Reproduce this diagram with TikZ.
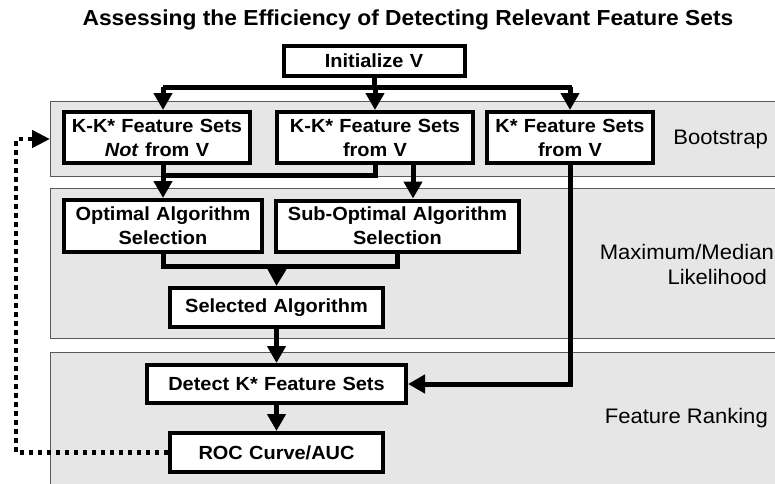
\documentclass[tikz,border=0pt]{standalone}
\usepackage{fontspec}
\setmainfont[FakeStretch=1.05]{Liberation Sans}
\usepackage{tikz}
\usetikzlibrary{arrows.meta}
\usetikzlibrary{positioning}
\definecolor{bandgray}{RGB}{230,230,230}
\tikzstyle{band} = [fill=bandgray, draw=black!65, line width=1pt]
\tikzstyle{stepbox} = [draw, fill=white, line width=4pt, inner sep=0pt, align=center, font=\fontsize{19}{24}\selectfont\bfseries]
\tikzstyle{bandlabel} = [anchor=east, align=right, inner sep=0pt, font=\fontsize{21}{25}\selectfont]
\tikzstyle{link} = [line width=5pt, miter limit=10]
\tikzstyle{arrow} = [link, -{Triangle[length=17pt,width=18pt]}]
\tikzstyle{loopback} = [line width=4.5pt, dash pattern=on 4.5pt off 4.5pt, -{Triangle[length=18pt,width=17pt]}]

\begin{document}
\begin{tikzpicture}[x=1pt,y=-1pt]
\clip (0,0) rectangle (775,483);
\fill[white] (0,0) rectangle (775,483);

% bands
\draw[band] (50,101) rectangle (780,176);
\draw[band] (50,188) rectangle (780,338);
\draw[band] (50,352) rectangle (780,495);
\coordinate (bootin) at (50,139);

\node[font=\fontsize{21.7}{26}\selectfont\bfseries] (title) at (408,20) {Assessing the Efficiency of Detecting Relevant Feature Sets};

\node[stepbox, text width=181pt, minimum height=30pt] (init) at (374,61) {Initialize V};
\node[stepbox, text width=186pt, minimum height=51pt] (notV) at (157,137.5) {K-K* Feature Sets\\\textit{Not} from V};
\node[stepbox, text width=196pt, minimum height=51pt] (fromV) at (375,137.5) {K-K* Feature Sets\\from V};
\node[stepbox, text width=166pt, minimum height=51pt] (kstar) at (570,137.5) {K* Feature Sets\\from V};
\node[stepbox, text width=198pt, minimum height=52pt] (optsel) at (163,226) {Optimal Algorithm\\Selection};
\node[stepbox, text width=243pt, minimum height=51pt] (subsel) at (397.5,226) {Sub-Optimal Algorithm\\Selection};
\node[stepbox, text width=213pt, minimum height=39pt] (selalg) at (276.5,307.5) {Selected Algorithm};
\node[stepbox, text width=259pt, minimum height=38pt] (detect) at (276.5,384) {Detect K* Feature Sets};
\node[stepbox, text width=213pt, minimum height=39pt] (roc) at (276.5,452.5) {ROC Curve/AUC};

\node[bandlabel] (bootlbl) at (768,139) {Bootstrap};
\node[bandlabel] (mlelbl) at (774,264.5) {Maximum/Median\\Likelihood\hspace*{7pt}};
\node[bandlabel] (ranklbl) at (768,418) {Feature Ranking};

% junctions
\coordinate (j0) at (374,87);
\coordinate (b1) at (163,175);
\coordinate (b2) at (413,175);
\coordinate (b3) at (277,266);
\coordinate (lp) at (16,139);

\draw[link] (init.south) -- (j0);
\draw[link] (163,87) -- (572,87);
\draw[arrow] (j0 -| b1) -- (b1 |- notV.north);
\draw[arrow] (j0 -| fromV.north) -- (fromV.north);
\draw[arrow] (j0 -| kstar.north) -- (kstar.north);

\draw[link] (b1 |- notV.south) -- (b1) -- (b1 -| fromV.south) -- (fromV.south);
\draw[arrow] (b1) -- (optsel.north);
\draw[arrow] (b2 |- fromV.south) -- (b2 |- subsel.north);
\draw[arrow] (kstar.south) |- (detect.east);

\draw[link] (optsel.south) -- (optsel.south |- b3) -- (subsel.south |- b3) -- (subsel.south);
\draw[arrow] (b3) -- (selalg.north);
\draw[arrow] (selalg.south) -- (detect.north);
\draw[arrow] (detect.south) -- (roc.north);

\draw[loopback] (roc.west) -| (lp) -- (bootin);
\end{tikzpicture}
\end{document}
